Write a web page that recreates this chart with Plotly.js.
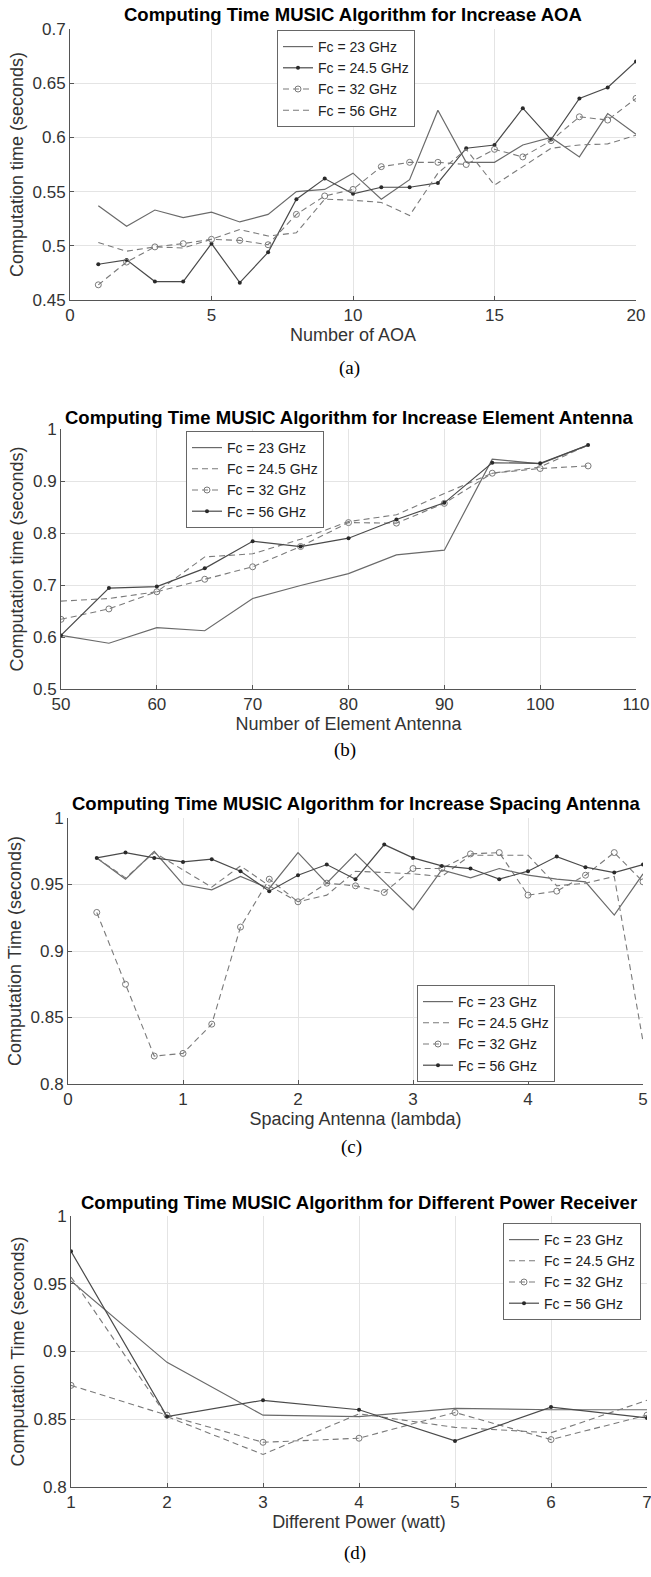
<!DOCTYPE html>
<html>
<head>
<meta charset="utf-8">
<script src="https://cdn.plot.ly/plotly-3.0.1.min.js"></script>
<style>
html,body{margin:0;padding:0;background:#fff;}
#chart{width:651px;height:1577px;}
</style>
</head>
<body>
<div id="chart"></div>
<script>
// ---------- DATA ----------
const seriesNames = ["Fc = 23 GHz", "Fc = 24.5 GHz", "Fc = 32 GHz", "Fc = 56 GHz"];

// (a) Increase AOA
const aoaX   = [1,2,3,4,5,6,7,8,9,10,11,12,13,14,15,16,17,18,19,20];
const aoa23  = [0.537,0.518,0.533,0.526,0.531,0.522,0.529,0.550,0.552,0.567,0.543,0.561,0.625,0.577,0.577,0.593,0.600,0.582,0.622,0.603];
const aoa245 = [0.483,0.487,0.467,0.467,0.502,0.466,0.494,0.543,0.562,0.548,0.554,0.554,0.558,0.590,0.593,0.627,0.598,0.636,0.646,0.670];
const aoa32  = [0.464,0.485,0.499,0.502,0.506,0.505,0.501,0.529,0.546,0.552,0.573,0.577,0.577,0.575,0.589,0.582,0.597,0.619,0.616,0.636];
const aoa56  = [0.503,0.495,0.499,0.498,0.506,0.515,0.509,0.512,0.543,0.542,0.540,0.528,0.567,0.589,0.556,0.573,0.590,0.593,0.594,0.602];

// (b) Increase Element Antenna
const elemX   = [50,55,60,65,70,75,80,85,90,95,100,105];
const elem23  = [0.603,0.588,0.618,0.612,0.674,0.699,0.722,0.758,0.767,0.942,0.933,0.969];
const elem245 = [0.669,0.674,0.687,0.754,0.760,0.788,0.822,0.835,0.876,0.915,0.927,0.969];
const elem32  = [0.634,0.654,0.687,0.711,0.735,0.774,0.820,0.819,0.857,0.915,0.924,0.929];
const elem56  = [0.603,0.694,0.697,0.732,0.784,0.774,0.790,0.826,0.858,0.935,0.934,0.969];

// (c) Increase Spacing Antenna
const spaceX   = [0.25,0.5,0.75,1,1.25,1.5,1.75,2,2.25,2.5,2.75,3,3.25,3.5,3.75,4,4.25,4.5,4.75,5];
const space23  = [0.970,0.954,0.975,0.950,0.946,0.956,0.947,0.974,0.951,0.973,0.952,0.931,0.961,0.955,0.962,0.957,0.954,0.952,0.927,0.958];
const space245 = [0.970,0.955,0.974,0.961,0.948,0.964,0.949,0.937,0.942,0.960,0.959,0.958,0.956,0.972,0.972,0.972,0.949,0.951,0.956,0.832];
const space32  = [0.929,0.875,0.821,0.823,0.845,0.918,0.954,0.937,0.951,0.949,0.944,0.962,0.962,0.973,0.974,0.942,0.945,0.957,0.974,0.952];
const space56  = [0.970,0.974,0.970,0.967,0.969,0.960,0.945,0.957,0.965,0.954,0.980,0.970,0.964,0.962,0.954,0.960,0.971,0.963,0.959,0.965];

// (d) Different Power Receiver
const powX   = [1,2,3,4,5,6,7];
const pow23  = [0.952,0.892,0.853,0.852,0.858,0.857,0.857];
const pow245 = [0.955,0.852,0.824,0.854,0.844,0.840,0.864];
const pow32  = [0.875,0.853,0.833,0.836,0.855,0.835,0.853];
const pow56  = [0.974,0.852,0.864,0.857,0.834,0.859,0.851];

// Tick labels
const aoaXTicks   = [0,5,10,15,20];
const aoaYTicks   = [0.45,0.5,0.55,0.6,0.65,0.7];
const aoaYLabels  = ["0.45","0.5","0.55","0.6","0.65","0.7"];
const elemXTicks  = [50,60,70,80,90,100,110];
const elemYTicks  = [0.5,0.6,0.7,0.8,0.9,1];
const elemYLabels = ["0.5","0.6","0.7","0.8","0.9","1"];
const spaceXTicks = [0,1,2,3,4,5];
const powXTicks   = [1,2,3,4,5,6,7];
const hiYTicks    = [0.8,0.85,0.9,0.95,1];
const hiYLabels   = ["0.8","0.85","0.9","0.95","1"];

// Texts
const panelTitles = [
  "Computing Time MUSIC Algorithm for Increase AOA",
  "Computing Time MUSIC Algorithm for Increase Element Antenna",
  "Computing Time MUSIC Algorithm for Increase Spacing Antenna",
  "Computing Time MUSIC Algorithm for Different Power Receiver"
];
const xTitles = ["Number of AOA","Number of Element Antenna","Spacing Antenna (lambda)","Different Power (watt)"];
const yTitles = ["Computation time (seconds)","Computation time (seconds)","Computation Time (seconds)","Computation Time (seconds)"];
const captions = ["(a)","(b)","(c)","(d)"];

// ---------- STYLES ----------
const SOLID = {dash:"solid", color:"#6a6a6a", width:1.2};
const SOLIDDOT = {dash:"solid", color:"#4a4a4a", width:1.2, marker:{symbol:"circle", size:4, color:"#2a2a2a"}};
const DASHCIRC = {dash:"6px,4px", color:"#7a7a7a", width:1.1, marker:{symbol:"circle-open", size:6, color:"#7a7a7a", line:{width:1,color:"#7a7a7a"}}};
const DASH = {dash:"6px,4px", color:"#7a7a7a", width:1.1};

function mk(x, y, name, st, ax, leg){
  const t = {
    type:"scatter", x:x, y:y, name:name,
    xaxis:"x"+ax, yaxis:"y"+ax, legend:leg,
    mode: st.marker ? "lines+markers" : "lines",
    line:{color:st.color, width:st.width, dash:st.dash}
  };
  if (st.marker) t.marker = st.marker;
  return t;
}

const data = [
  mk(aoaX, aoa23,  seriesNames[0], SOLID,    "", "legend"),
  mk(aoaX, aoa245, seriesNames[1], SOLIDDOT, "", "legend"),
  mk(aoaX, aoa32,  seriesNames[2], DASHCIRC, "", "legend"),
  mk(aoaX, aoa56,  seriesNames[3], DASH,     "", "legend"),

  mk(elemX, elem23,  seriesNames[0], SOLID,    "2", "legend2"),
  mk(elemX, elem245, seriesNames[1], DASH,     "2", "legend2"),
  mk(elemX, elem32,  seriesNames[2], DASHCIRC, "2", "legend2"),
  mk(elemX, elem56,  seriesNames[3], SOLIDDOT, "2", "legend2"),

  mk(spaceX, space23,  seriesNames[0], SOLID,    "3", "legend3"),
  mk(spaceX, space245, seriesNames[1], DASH,     "3", "legend3"),
  mk(spaceX, space32,  seriesNames[2], DASHCIRC, "3", "legend3"),
  mk(spaceX, space56,  seriesNames[3], SOLIDDOT, "3", "legend3"),

  mk(powX, pow23,  seriesNames[0], SOLID,    "4", "legend4"),
  mk(powX, pow245, seriesNames[1], DASH,     "4", "legend4"),
  mk(powX, pow32,  seriesNames[2], DASHCIRC, "4", "legend4"),
  mk(powX, pow56,  seriesNames[3], SOLIDDOT, "4", "legend4")
];
// fix axis ids for the first panel
data.slice(0,4).forEach(t => { t.xaxis = "x"; t.yaxis = "y"; });

const W = 651, H = 1577;
const FONT = "Liberation Sans, Arial, Helvetica, sans-serif";
const TICKCOL = "#333333";

function xax(domain, range, tickvals, title, anchor){
  return {
    domain: domain, range: range, anchor: anchor,
    tickvals: tickvals, ticktext: tickvals.map(String),
    ticks: "inside", ticklen: 4, tickcolor: "#555",
    showline: true, linecolor: "#555", linewidth: 1, mirror: false,
    showgrid: true, gridcolor: "#e4e4e4", gridwidth: 1, zeroline: false,
    ticklabeloverflow: "allow",
    tickfont: {family: FONT, size: 17, color: TICKCOL},
    title: {text: title, font: {family: FONT, size: 18, color: TICKCOL}, standoff: 2}
  };
}
function yax(domain, range, tickvals, ticktext, title, anchor){
  return {
    domain: domain, range: range, anchor: anchor,
    tickvals: tickvals, ticktext: ticktext,
    ticks: "inside", ticklen: 4, tickcolor: "#555",
    showline: true, linecolor: "#555", linewidth: 1, mirror: false,
    showgrid: true, gridcolor: "#e4e4e4", gridwidth: 1, zeroline: false,
    tickfont: {family: FONT, size: 17, color: TICKCOL},
    title: {text: title, font: {family: FONT, size: 18, color: TICKCOL}, standoff: 4}
  };
}
function px(v){ return v / W; }
function py(v){ return 1 - v / H; }

const legendBase = {
  bgcolor: "#ffffff", bordercolor: "#666", borderwidth: 1,
  font: {family: FONT, size: 14, color: "#222"},
  itemwidth: 30, tracegroupgap: 0
};

const layout = {
  width: W, height: H,
  margin: {l:0, r:0, t:0, b:0},
  paper_bgcolor: "#ffffff", plot_bgcolor: "#ffffff",
  showlegend: true,
  xaxis:  xax([px(70), px(636)], [0,20], aoaXTicks, xTitles[0], "y"),
  yaxis:  yax([py(300), py(29)], [0.45,0.7], aoaYTicks, aoaYLabels, yTitles[0], "x"),
  xaxis2: xax([px(61), px(636)], [50,110], elemXTicks, xTitles[1], "y2"),
  yaxis2: yax([py(689), py(429)], [0.5,1], elemYTicks, elemYLabels, yTitles[1], "x2"),
  xaxis3: xax([px(68), px(643)], [0,5], spaceXTicks, xTitles[2], "y3"),
  yaxis3: yax([py(1084), py(818)], [0.8,1], hiYTicks, hiYLabels, yTitles[2], "x3"),
  xaxis4: xax([px(71), px(647)], [1,7], powXTicks, xTitles[3], "y4"),
  yaxis4: yax([py(1487), py(1216)], [0.8,1], hiYTicks, hiYLabels, yTitles[3], "x4"),
  legend:  Object.assign({}, legendBase, {x: px(277), y: py(30),   xanchor: "left", yanchor: "top"}),
  legend2: Object.assign({}, legendBase, {x: px(186), y: py(431),  xanchor: "left", yanchor: "top"}),
  legend3: Object.assign({}, legendBase, {x: px(417), y: py(1082), xanchor: "left", yanchor: "bottom"}),
  legend4: Object.assign({}, legendBase, {x: px(641), y: py(1223), xanchor: "right", yanchor: "top"}),
  annotations: []
};

const titleY = [15, 417, 803, 1202];
const titleX = [(70+636)/2, (61+636)/2, (68+643)/2, (71+647)/2];
const capY = [368, 750, 1147, 1553];
for (let i = 0; i < 4; i++) {
  layout.annotations.push({
    text: "<b>" + panelTitles[i] + "</b>", showarrow: false,
    xref: "paper", yref: "paper", x: px(titleX[i]), y: py(titleY[i]),
    xanchor: "center", yanchor: "middle",
    font: {family: FONT, size: 18.5, color: "#000"}
  });
  layout.annotations.push({
    text: captions[i], showarrow: false,
    xref: "paper", yref: "paper", x: px(titleX[i] - 4), y: py(capY[i]),
    xanchor: "center", yanchor: "middle",
    font: {family: "Liberation Serif, Times New Roman, serif", size: 19, color: "#000"}
  });
}

Plotly.newPlot("chart", data, layout, {displayModeBar: false, staticPlot: true});
</script>
</body>
</html>
